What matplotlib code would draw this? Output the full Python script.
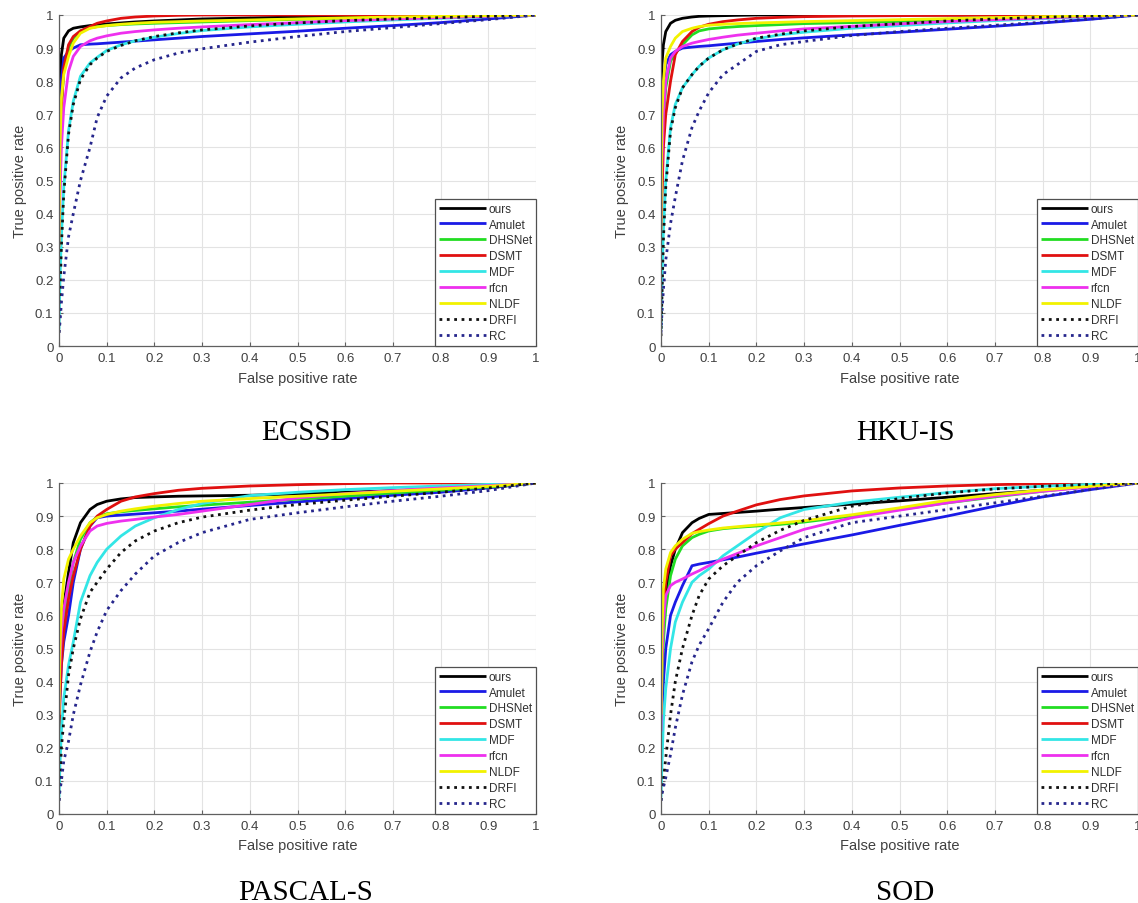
import matplotlib
matplotlib.use("Agg")
import matplotlib.pyplot as plt

# ---------------- data ----------------
methods = ["ours", "Amulet", "DHSNet", "DSMT", "MDF", "rfcn", "NLDF", "DRFI", "RC"]
colors = ["#000000", "#1a1ae6", "#22dd22", "#e01010", "#33e6e6", "#ee30ee", "#f2f200", "#111111", "#26268c"]
styles = ["-", "-", "-", "-", "-", "-", "-", ":", ":"]

fpr = [0, 0.002, 0.005, 0.01, 0.02, 0.03, 0.045, 0.065, 0.08, 0.1, 0.13, 0.16,
       0.2, 0.25, 0.3, 0.4, 0.5, 0.6, 0.7, 0.8, 0.9, 1.0]

ecssd_tpr = [
    [0.3, 0.6, 0.88, 0.93, 0.952, 0.96, 0.964, 0.968, 0.97, 0.973, 0.976, 0.979, 0.982, 0.985, 0.988, 0.991, 0.994, 0.996, 0.997, 0.998, 0.999, 1.0],
    [0.3, 0.6, 0.8, 0.87, 0.89, 0.9, 0.91, 0.912, 0.913, 0.915, 0.918, 0.921, 0.925, 0.93, 0.935, 0.943, 0.951, 0.96, 0.968, 0.977, 0.988, 1.0],
    [0.3, 0.55, 0.72, 0.83, 0.9, 0.93, 0.952, 0.961, 0.965, 0.968, 0.971, 0.973, 0.975, 0.977, 0.979, 0.983, 0.987, 0.99, 0.993, 0.996, 0.998, 1.0],
    [0.3, 0.55, 0.72, 0.84, 0.91, 0.935, 0.952, 0.965, 0.975, 0.982, 0.99, 0.994, 0.997, 0.999, 1.0, 1.0, 1.0, 1.0, 1.0, 1.0, 1.0, 1.0],
    [0.05, 0.2, 0.33, 0.48, 0.65, 0.74, 0.815, 0.855, 0.872, 0.893, 0.91, 0.922, 0.933, 0.944, 0.953, 0.964, 0.972, 0.979, 0.985, 0.99, 0.995, 1.0],
    [0.3, 0.45, 0.6, 0.72, 0.83, 0.875, 0.905, 0.922, 0.93, 0.937, 0.945, 0.95, 0.955, 0.96, 0.964, 0.971, 0.977, 0.983, 0.988, 0.992, 0.996, 1.0],
    [0.3, 0.6, 0.75, 0.82, 0.875, 0.915, 0.945, 0.96, 0.964, 0.968, 0.972, 0.975, 0.978, 0.98, 0.982, 0.985, 0.988, 0.991, 0.994, 0.996, 0.998, 1.0],
    [0.04, 0.15, 0.3, 0.46, 0.64, 0.73, 0.805, 0.85, 0.87, 0.89, 0.908, 0.922, 0.935, 0.946, 0.955, 0.967, 0.976, 0.983, 0.988, 0.992, 0.996, 1.0],
    [0.04, 0.07, 0.13, 0.21, 0.33, 0.4, 0.5, 0.6, 0.69, 0.755, 0.81, 0.84, 0.865, 0.885, 0.898, 0.918, 0.935, 0.95, 0.962, 0.974, 0.986, 1.0],
]

hkuis_tpr = [
    [0.3, 0.85, 0.91, 0.95, 0.975, 0.984, 0.99, 0.994, 0.996, 0.997, 0.998, 0.999, 1.0, 1.0, 1.0, 1.0, 1.0, 1.0, 1.0, 1.0, 1.0, 1.0],
    [0.3, 0.6, 0.78, 0.85, 0.88, 0.89, 0.9, 0.903, 0.905, 0.907, 0.911, 0.915, 0.92, 0.926, 0.931, 0.94, 0.948, 0.957, 0.966, 0.976, 0.987, 1.0],
    [0.3, 0.5, 0.68, 0.78, 0.86, 0.885, 0.91, 0.94, 0.952, 0.958, 0.962, 0.965, 0.968, 0.971, 0.974, 0.977, 0.98, 0.984, 0.988, 0.993, 0.997, 1.0],
    [0.3, 0.45, 0.6, 0.7, 0.8, 0.88, 0.92, 0.95, 0.963, 0.972, 0.98, 0.985, 0.99, 0.993, 0.995, 0.997, 0.998, 0.999, 1.0, 1.0, 1.0, 1.0],
    [0.05, 0.2, 0.35, 0.5, 0.66, 0.73, 0.78, 0.82, 0.845, 0.87, 0.895, 0.912, 0.928, 0.94, 0.948, 0.96, 0.968, 0.976, 0.983, 0.989, 0.995, 1.0],
    [0.35, 0.55, 0.7, 0.8, 0.87, 0.89, 0.905, 0.915, 0.92, 0.926, 0.933, 0.939, 0.945, 0.952, 0.958, 0.966, 0.973, 0.98, 0.986, 0.991, 0.996, 1.0],
    [0.35, 0.7, 0.8, 0.87, 0.905, 0.93, 0.95, 0.96, 0.965, 0.969, 0.972, 0.974, 0.976, 0.978, 0.98, 0.983, 0.986, 0.989, 0.992, 0.995, 0.998, 1.0],
    [0.03, 0.15, 0.32, 0.48, 0.65, 0.72, 0.78, 0.82, 0.845, 0.87, 0.895, 0.912, 0.93, 0.942, 0.952, 0.965, 0.974, 0.982, 0.988, 0.993, 0.997, 1.0],
    [0.04, 0.1, 0.17, 0.26, 0.37, 0.45, 0.56, 0.66, 0.71, 0.765, 0.82, 0.85, 0.89, 0.91, 0.92, 0.938, 0.95, 0.96, 0.969, 0.978, 0.988, 1.0],
]

pascal_tpr = [
    [0.3, 0.45, 0.55, 0.63, 0.73, 0.82, 0.88, 0.92, 0.935, 0.945, 0.952, 0.956, 0.958, 0.96, 0.961, 0.963, 0.967, 0.972, 0.977, 0.983, 0.99, 1.0],
    [0.25, 0.35, 0.45, 0.52, 0.6, 0.7, 0.8, 0.87, 0.895, 0.9, 0.903, 0.906, 0.91, 0.915, 0.921, 0.932, 0.943, 0.953, 0.963, 0.972, 0.985, 1.0],
    [0.25, 0.4, 0.5, 0.58, 0.68, 0.76, 0.83, 0.88, 0.897, 0.907, 0.913, 0.917, 0.922, 0.928, 0.933, 0.942, 0.951, 0.96, 0.97, 0.978, 0.988, 1.0],
    [0.25, 0.35, 0.45, 0.55, 0.65, 0.72, 0.8, 0.87, 0.9, 0.92, 0.945, 0.958, 0.968, 0.978, 0.984, 0.991, 0.995, 0.998, 1.0, 1.0, 1.0, 1.0],
    [0.05, 0.15, 0.25, 0.35, 0.45, 0.52, 0.64, 0.72, 0.76, 0.8, 0.84, 0.87, 0.895, 0.92, 0.938, 0.962, 0.972, 0.98, 0.986, 0.991, 0.996, 1.0],
    [0.3, 0.45, 0.55, 0.62, 0.7, 0.76, 0.81, 0.855, 0.87, 0.878, 0.885, 0.89, 0.897, 0.905, 0.915, 0.935, 0.955, 0.968, 0.977, 0.985, 0.992, 1.0],
    [0.3, 0.5, 0.62, 0.71, 0.77, 0.8, 0.84, 0.88, 0.895, 0.905, 0.915, 0.922, 0.93, 0.938, 0.945, 0.953, 0.96, 0.967, 0.975, 0.982, 0.99, 1.0],
    [0.04, 0.1, 0.2, 0.28, 0.42, 0.5, 0.59, 0.67, 0.7, 0.74, 0.79, 0.825, 0.855, 0.88, 0.897, 0.918, 0.935, 0.948, 0.96, 0.972, 0.985, 1.0],
    [0.04, 0.07, 0.1, 0.16, 0.22, 0.3, 0.39, 0.49, 0.55, 0.615, 0.675, 0.725, 0.78, 0.82, 0.85, 0.89, 0.91, 0.928, 0.945, 0.96, 0.977, 1.0],
]

sod_tpr = [
    [0.25, 0.45, 0.58, 0.66, 0.75, 0.8, 0.85, 0.88, 0.893, 0.905, 0.908, 0.911, 0.915, 0.921, 0.926, 0.936, 0.946, 0.957, 0.968, 0.978, 0.989, 1.0],
    [0.2, 0.3, 0.4, 0.5, 0.6, 0.64, 0.69, 0.75, 0.755, 0.76, 0.768, 0.776, 0.788, 0.802, 0.816, 0.843, 0.872, 0.9, 0.93, 0.958, 0.98, 1.0],
    [0.25, 0.4, 0.52, 0.62, 0.72, 0.77, 0.81, 0.835, 0.845, 0.855, 0.862, 0.866, 0.87, 0.875, 0.882, 0.9, 0.92, 0.94, 0.958, 0.975, 0.99, 1.0],
    [0.3, 0.5, 0.62, 0.7, 0.78, 0.8, 0.82, 0.847, 0.86, 0.877, 0.9, 0.915, 0.934, 0.95, 0.961, 0.976, 0.985, 0.991, 0.995, 0.998, 1.0, 1.0],
    [0.05, 0.15, 0.28, 0.38, 0.5, 0.58, 0.64, 0.7, 0.72, 0.74, 0.78, 0.81, 0.85, 0.895, 0.92, 0.942, 0.957, 0.971, 0.983, 0.99, 0.996, 1.0],
    [0.25, 0.45, 0.58, 0.66, 0.69, 0.7, 0.71, 0.725, 0.735, 0.75, 0.77, 0.787, 0.81, 0.835, 0.86, 0.895, 0.918, 0.94, 0.96, 0.975, 0.988, 1.0],
    [0.3, 0.55, 0.68, 0.74, 0.79, 0.81, 0.83, 0.848, 0.853, 0.858, 0.864, 0.868, 0.873, 0.879, 0.886, 0.904, 0.925, 0.948, 0.965, 0.979, 0.99, 1.0],
    [0.04, 0.07, 0.1, 0.17, 0.3, 0.4, 0.5, 0.6, 0.66, 0.71, 0.75, 0.78, 0.82, 0.857, 0.887, 0.93, 0.953, 0.97, 0.982, 0.99, 0.996, 1.0],
    [0.04, 0.06, 0.08, 0.11, 0.18, 0.26, 0.36, 0.46, 0.51, 0.56, 0.64, 0.7, 0.75, 0.795, 0.835, 0.88, 0.9, 0.92, 0.94, 0.96, 0.98, 1.0],
]

panels = [("ECSSD", ecssd_tpr), ("HKU-IS", hkuis_tpr), ("PASCAL-S", pascal_tpr), ("SOD", sod_tpr)]
ticks = [0, 0.1, 0.2, 0.3, 0.4, 0.5, 0.6, 0.7, 0.8, 0.9, 1]
tick_labels = ["0", "0.1", "0.2", "0.3", "0.4", "0.5", "0.6", "0.7", "0.8", "0.9", "1"]

# ---------------- figure ----------------
plt.rcParams["font.family"] = ["Liberation Sans", "DejaVu Sans"]
W, H = 1138, 904
fig = plt.figure(figsize=(W / 100, H / 100), dpi=100)

# axes rectangles in pixels: left, top, right, bottom
rects = [(59, 16, 536, 347), (661, 16, 1138, 347), (59, 484, 536, 815), (661, 484, 1138, 815)]
caption_pos = [(306, 433), (905, 433), (306, 893), (905, 893)]

for (name, tprs), (l, t, r, b), (cx, cy) in zip(panels, rects, caption_pos):
    ax = fig.add_axes([l / W, 1 - b / H, (r - l) / W, (b - t) / H])
    for m, tpr, c, ls in zip(methods, tprs, colors, styles):
        ax.plot(fpr, tpr, color=c, linestyle=ls, linewidth=2.0, label=m,
                solid_capstyle="butt", clip_on=True)
    ax.set_xlim(0, 1)
    ax.set_ylim(0, 1)
    ax.set_xticks(ticks)
    ax.set_yticks(ticks)
    ax.set_xticklabels(tick_labels)
    ax.set_yticklabels(tick_labels)
    ax.grid(True, color="#e3e3e3", linewidth=0.8)
    ax.set_axisbelow(True)
    for s in ["top", "right"]:
        ax.spines[s].set_visible(False)
    for s in ["left", "bottom"]:
        ax.spines[s].set_color("#606060")
        ax.spines[s].set_linewidth(0.9)
    ax.tick_params(direction="in", length=3, width=0.8, colors="#606060",
                   labelcolor="#404040", labelsize=9.5, pad=4)
    ax.set_xlabel("False positive rate", fontsize=10.5, color="#404040", labelpad=5)
    ax.set_ylabel("True positive rate", fontsize=10.5, color="#404040", labelpad=6)
    leg = ax.legend(loc="lower right", borderaxespad=0, fontsize=8.5, handlelength=4.0,
                    handletextpad=0.2, labelspacing=0.33, borderpad=0.35,
                    fancybox=False, framealpha=1, edgecolor="#505050")
    leg.get_frame().set_linewidth(0.9)
    for txt in leg.get_texts():
        txt.set_color("#303030")
    fig.text(cx / W, 1 - cy / H, name, ha="center", va="center",
             fontsize=21, family=["Liberation Serif", "DejaVu Serif"], color="#000000")

fig.savefig("out.png", dpi=100)
